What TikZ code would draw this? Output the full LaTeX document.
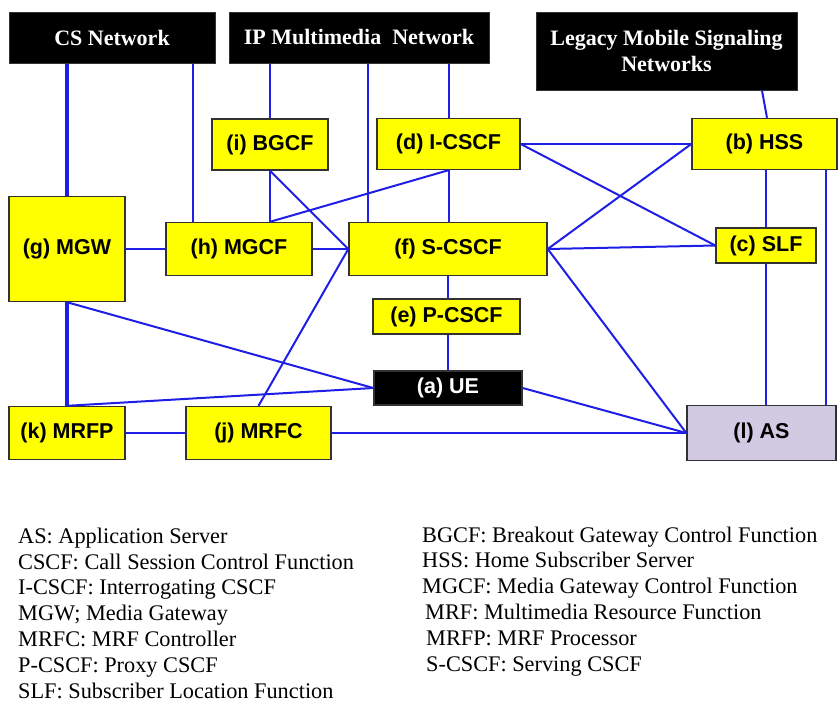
\documentclass[tikz,border=0pt]{standalone}
\usepackage{fontspec}
\setmainfont{Liberation Serif}
\setsansfont{Liberation Sans}

\definecolor{boxyellow}{RGB}{255,255,0}
\definecolor{boxedge}{RGB}{50,50,50}
\definecolor{linkblue}{RGB}{30,30,230}
\definecolor{aslilac}{RGB}{210,202,226}

\begin{document}
\begin{tikzpicture}[x=1pt, y=-1pt,
  fn/.style={rectangle, draw=boxedge, line width=1.4pt, fill=boxyellow, inner sep=0pt,
    font=\fontsize{21.5}{25}\selectfont\sffamily\bfseries},
  net/.style={rectangle, draw=boxedge, line width=1pt, fill=black, text=white, inner sep=0pt,
    align=center, font=\fontsize{22}{26}\selectfont\bfseries},
  link/.style={draw=linkblue, line width=2pt},
  trunk/.style={draw=linkblue, line width=3.5pt},
  legend/.style={anchor=base west, inner sep=0pt, font=\fontsize{22.3}{26}\selectfont}]

\useasboundingbox (0, 0) rectangle (838, 704);

% networks
\node[net, minimum width=206, minimum height=51] (cs) at (112, 37.5) {CS Network};
\node[net, minimum width=260, minimum height=51] (ims) at (359, 37.5) {IP Multimedia\ \ Network};
\node[net, minimum width=261, minimum height=78] (legacy) at (666.5, 51) {Legacy Mobile Signaling\\Networks};

% functions
\node[fn, minimum width=116, minimum height=51] (bgcf) at (270, 144.5) {(i) BGCF};
\node[fn, minimum width=143, minimum height=51] (icscf) at (448.5, 144) {(d) I-CSCF};
\node[fn, minimum width=145, minimum height=51] (hss) at (764.5, 144) {(b) HSS};
\node[fn, minimum width=116, minimum height=105] (mgw) at (67, 249) {(g) MGW};
\node[fn, minimum width=146, minimum height=53] (mgcf) at (239, 249) {(h) MGCF};
\node[fn, minimum width=198, minimum height=53] (scscf) at (448, 249) {(f) S-CSCF};
\node[fn, minimum width=100, minimum height=35] (slf) at (766, 245.5) {(c) SLF};
\node[fn, minimum width=147, minimum height=35] (pcscf) at (446.5, 316.5) {(e) P-CSCF};
\node[fn, fill=black, text=white, minimum width=148, minimum height=34] (ue) at (448, 388) {(a) UE};
\node[fn, minimum width=116, minimum height=53] (mrfp) at (67, 433) {(k) MRFP};
\node[fn, minimum width=145, minimum height=53] (mrfc) at (258.5, 433) {(j) MRFC};
\node[fn, fill=aslilac, minimum width=149, minimum height=55] (as) at (761.5, 433) {(l) AS};

% links
\draw[trunk] (mgw.north) -- (mgw.north |- cs.south);
\draw[trunk] (mgw.south) -- (mrfp.north);
\draw[link] ([xshift=-46]mgcf.north) -- ([xshift=-46]mgcf.north |- cs.south);
\draw[link] (bgcf.north) -- (bgcf.north |- ims.south);
\draw[link] ([xshift=-80]scscf.north) -- ([xshift=-80]scscf.north |- ims.south);
\draw[link] (icscf.north) -- (icscf.north |- ims.south);
\draw[link] ([xshift=2.5]hss.north) -- ([xshift=95.5]legacy.south);
\draw[link] (bgcf.south) -- (bgcf.south |- mgcf.north);
\draw[link] (bgcf.south) -- (scscf.west);
\draw[link] (icscf.south) -- (bgcf.south |- mgcf.north);
\draw[link] (icscf.south) -- (icscf.south |- scscf.north);
\draw[link] (icscf.east) -- (icscf.east -| hss.west);
\draw[link] (icscf.east) -- (slf.west);
\draw[link] (scscf.east) -- (hss.west);
\draw[link] (scscf.east) -- (slf.west);
\draw[link] (scscf.east) -- (as.west);
\draw[link] (scscf.south) -- (scscf.south |- pcscf.north);
\draw[link] (ue.north) -- (ue.north |- pcscf.south);
\draw[link] (ue.east) -- (as.west);
\draw[link] (mrfc.east) -- (mrfc.east -| as.west);
\draw[link] (slf.north) -- (slf.north |- hss.south);
\draw[link] ([xshift=64.5]as.north) -- ([xshift=64.5]as.north |- hss.south);
\draw[link] (slf.south) -- (slf.south |- as.north);
\draw[link] (mgw.east) -- (mgcf.west);
\draw[link] (mgcf.east) -- (scscf.west);
\draw[link] (mgw.south) -- (ue.west);
\draw[link] (mrfp.north) -- (ue.west);
\draw[link] (mrfc.north) -- (scscf.west);
\draw[link] (mrfp.east) -- (mrfc.west);

% legend
\node[legend] (lgas) at (18, 543) {AS: Application Server};
\node[legend] (lgcscf) at (18, 569) {CSCF: Call Session Control Function};
\node[legend] (lgicscf) at (18, 594) {I-CSCF: Interrogating CSCF};
\node[legend] (lgmgw) at (18, 620) {MGW; Media Gateway};
\node[legend] (lgmrfc) at (18, 646) {MRFC: MRF Controller};
\node[legend] (lgpcscf) at (18, 672) {P-CSCF: Proxy CSCF};
\node[legend] (lgslf) at (18, 698) {SLF: Subscriber Location Function};
\node[legend] (lgbgcf) at (422, 542) {BGCF: Breakout Gateway Control Function};
\node[legend] (lghss) at (422, 567) {HSS: Home Subscriber Server};
\node[legend] (lgmgcf) at (422, 593) {MGCF: Media Gateway Control Function};
\node[legend] (lgmrf) at (425, 619) {MRF: Multimedia Resource Function};
\node[legend] (lgmrfp) at (426, 645) {MRFP: MRF Processor};
\node[legend] (lgscscf) at (426, 671) {S-CSCF: Serving CSCF};

\end{tikzpicture}
\end{document}
